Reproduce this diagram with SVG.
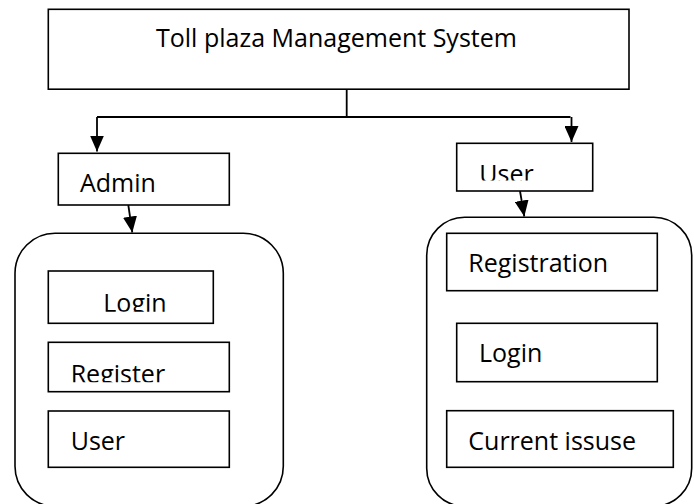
<svg xmlns="http://www.w3.org/2000/svg" width="694" height="504" viewBox="0 0 694 504">
<style>
.box{fill:#fff;stroke:#000;stroke-width:1.6}
.cont{fill:#fff;stroke:#000;stroke-width:1.6}
.lbl{font-family:"Open Sans","Noto Sans",sans-serif;font-size:25px;fill:#000}
.ln{fill:none;stroke:#000;stroke-width:1.8}
</style>
<defs>
<marker id="ah" viewBox="0 0 10 10" refX="10" refY="5" markerWidth="8" markerHeight="8" markerUnits="userSpaceOnUse" orient="auto">
<path d="M0,0 L10,5 L0,10 Z" fill="#000"/>
</marker>
<marker id="arr" viewBox="0 0 16 14" refX="16" refY="7" markerWidth="16" markerHeight="14" markerUnits="userSpaceOnUse" orient="auto">
<path d="M0,0 L16,7 L0,14 Z" fill="#000"/>
</marker>
<clipPath id="c-user"><rect x="456" y="143" width="137" height="37.5"/></clipPath>
<clipPath id="c-alogin"><rect x="48" y="271" width="166" height="40.8"/></clipPath>
<clipPath id="c-areg"><rect x="48" y="342" width="182" height="40.2"/></clipPath>
</defs>
<rect width="694" height="504" fill="#fff"/>
<g id="connectors">
<path class="ln" d="M346.7,89.3 V117 M97,117 H570.5"/>
<path class="ln" d="M97,117 V151.5" marker-end="url(#arr)"/>
<path class="ln" d="M571.5,117 V142" marker-end="url(#arr)"/>
<path class="ln" d="M128.3,205 L132.3,232.5" marker-end="url(#arr)"/>
<path class="ln" d="M520,191 L524.3,216.5" marker-end="url(#arr)"/>
</g>
<g id="system">
<rect class="box" x="48.3" y="9.3" width="580.7" height="79.9"/>
<text class="lbl" x="156" y="46.7" font-size="25.5">Toll plaza Management System</text>
</g>
<g id="admin">
<rect class="box" x="58.3" y="153.3" width="171" height="51.7"/>
<text class="lbl" x="80" y="191.7">Admin</text>
</g>
<g id="user">
<rect class="box" x="456.7" y="143.3" width="136" height="47.7"/>
<text class="lbl" x="479.3" y="183" clip-path="url(#c-user)">User</text>
</g>
<g id="admin-panel">
<rect class="cont" x="15" y="233.3" width="268.3" height="273" rx="40" ry="40"/>
</g>
<g id="admin-login">
<rect class="box" x="48.3" y="271" width="165" height="52.3"/>
<text class="lbl" x="103.3" y="311.5" clip-path="url(#c-alogin)">Login</text>
</g>
<g id="admin-register">
<rect class="box" x="48.3" y="342.3" width="181" height="49.4"/>
<text class="lbl" x="70.7" y="383" clip-path="url(#c-areg)">Register</text>
</g>
<g id="admin-user">
<rect class="box" x="48.3" y="411" width="181" height="56.3"/>
<text class="lbl" x="70.7" y="450">User</text>
</g>
<g id="user-panel">
<rect class="cont" x="426.7" y="217.3" width="265" height="289" rx="38" ry="38"/>
</g>
<g id="user-registration">
<rect class="box" x="446.7" y="233.3" width="210.6" height="57.4"/>
<text class="lbl" x="468.3" y="271.7">Registration</text>
</g>
<g id="user-login">
<rect class="box" x="456.7" y="323.3" width="200.6" height="58.4"/>
<text class="lbl" x="479" y="361.7">Login</text>
</g>
<g id="user-issue">
<rect class="box" x="446.7" y="410.7" width="226.6" height="56.6"/>
<text class="lbl" x="468.3" y="450">Current issuse</text>
</g>
</svg>
